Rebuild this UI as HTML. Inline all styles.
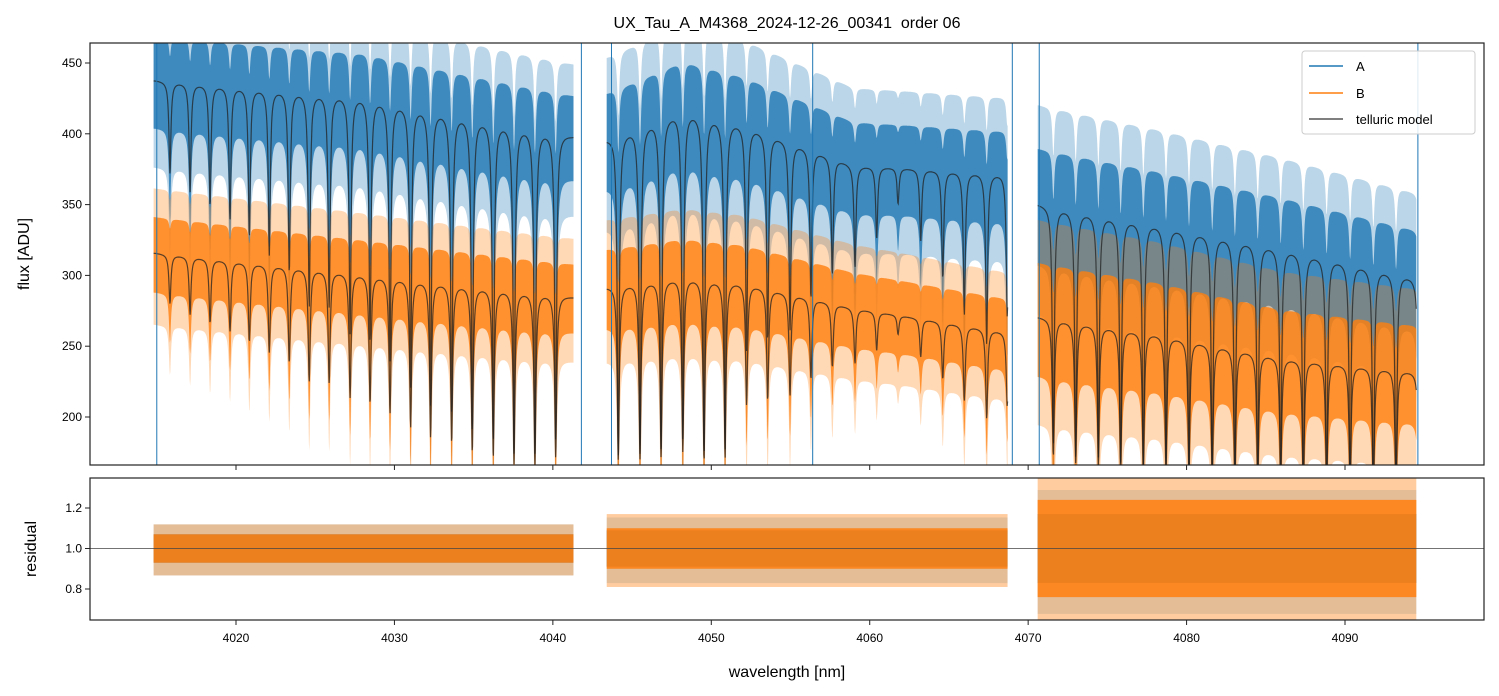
<!DOCTYPE html>
<html><head><meta charset="utf-8">
<style>
body{margin:0;background:#fff;}
svg{display:block;font-family:"Liberation Sans","DejaVu Sans",sans-serif;}
</style></head>
<body>
<svg id="chart" width="1499" height="696" viewBox="0 0 1499 696">
<defs>
<clipPath id="clipTop"><rect x="90" y="43" width="1394" height="422"/></clipPath>
<clipPath id="clipBot"><rect x="90" y="478" width="1394" height="142"/></clipPath>
</defs>
<text x="787" y="28" text-anchor="middle" font-size="16">UX_Tau_A_M4368_2024-12-26_00341&#160; order 06</text>
<g id="topG" clip-path="url(#clipTop)"></g>
<g id="botG" clip-path="url(#clipBot)"></g>
<g id="axes"></g>
<text transform="translate(29,254) rotate(-90)" text-anchor="middle" font-size="16">flux [ADU]</text>
<text transform="translate(36,549) rotate(-90)" text-anchor="middle" font-size="16">residual</text>
<text x="787" y="677" text-anchor="middle" font-size="16">wavelength [nm]</text>
<g>
<rect x="1302" y="51" width="173" height="83" rx="3" fill="#fff" fill-opacity="0.85" stroke="#ccc"/>
<line x1="1309" y1="66" x2="1343" y2="66" stroke="#1f77b4" stroke-width="1.5"/>
<text x="1356" y="71" font-size="13">A</text>
<line x1="1309" y1="93" x2="1343" y2="93" stroke="#ff7f0e" stroke-width="1.5"/>
<text x="1356" y="98" font-size="13">B</text>
<line x1="1309" y1="119" x2="1343" y2="119" stroke="#555" stroke-width="1.5"/>
<text x="1356" y="124" font-size="13">telluric model</text>
</g>
</svg>
<script>
const segments=[[4014.8,4041.3],[4043.4,4068.7],[4070.6,4094.5]];
const lineCenters=[4015.83,4017.10,4018.36,4019.62,4020.84,4022.10,4023.36,4024.62,4025.88,4027.20,4028.46,4029.72,4031.02,4032.28,4033.61,4034.91,4036.24,4037.55,4038.87,4040.18,
4044.13,4045.50,4046.83,4048.20,4049.54,4050.87,4052.23,4053.56,4054.97,4056.29,4057.64,4059.07,4060.44,4061.79,4063.22,4064.61,4065.97,4067.38,4068.68,
4071.59,4073.00,4074.43,4075.84,4077.27,4078.70,4080.15,4081.62,4083.05,4084.49,4085.94,4087.37,4088.84,4090.32,4091.79,4093.22,4094.69];
const lineDepths=[.11,.13,.145,.16,.18,.2,.22,.26,.26,.29,.3,.32,.35,.37,.38,.4,.41,.42,.42,.4,
.42,.42,.42,.41,.43,.42,.29,.27,.25,.2,.16,.14,.1,.05,.1,.15,.2,.24,.2,
.36,.37,.37,.38,.38,.37,.38,.38,.39,.38,.38,.39,.38,.38,.39,.38,.4];
const contW=[4014.8,4028,4041.3,4043.4,4048.2,4052.0,4059,4068.7,4070.6,4078,4086,4094.5];
const contA=[438,427,399,397,418,408,378,372,351,337,320,299];
const contB=[316,301,285,292,299,295,277,260,271,259,242,232];
const noiseA=[0.07,0.08,0.11];
const noiseB=[0.08,0.09,0.14];
const resA=[0.07,0.09,0.17];
const resB=[0.07,0.1,0.24];
const spikes=[4015.0,4041.8,4043.7,4056.4,4069.0,4070.7,4094.6];
const xTicks=[4020,4030,4040,4050,4060,4070,4080,4090];
const yTicks=[200,250,300,350,400,450];
const rTicks=[0.8,1.0,1.2];

const X=w=>236+(w-4020)*15.843;
const Y=f=>63+(450-f)*1.416;
const R=r=>548.5-(r-1)*202.5;
const NS='http://www.w3.org/2000/svg';
function mk(tag,attrs,parent){const e=document.createElementNS(NS,tag);for(const k in attrs)e.setAttribute(k,attrs[k]);parent.appendChild(e);return e;}
function cont(arr,w,s){let ks=[];for(let i=0;i<contW.length;i++){if(contW[i]>=segments[s][0]-0.01&&contW[i]<=segments[s][1]+0.01)ks.push(i);}
 for(let j=0;j<ks.length-1;j++){const a=ks[j],b=ks[j+1];if(w<=contW[b]||j==ks.length-2){const t=(w-contW[a])/(contW[b]-contW[a]);return arr[a]+t*(arr[b]-arr[a]);}}return arr[ks[0]];}
function trans(w,scale){let s=0;for(let i=0;i<lineCenters.length;i++){const d=(w-lineCenters[i])/0.075;s+=lineDepths[i]*scale/(1+d*d);}return Math.max(0.02,1-s);}
const topG=document.getElementById('topG'),botG=document.getElementById('botG'),axes=document.getElementById('axes');
const series=[{c:contA,n:noiseA,r:resA,col:'#1f77b4',sc:1.35,name:'a'},{c:contB,n:noiseB,r:resB,col:'#ff7f0e',sc:1.0,name:'b'}];
series.forEach(S=>{
 segments.forEach((seg,si)=>{
  const step=0.025;let up=[],lo=[],up2=[],lo2=[],mdl=[];
  for(let w=seg[0];w<=seg[1]+1e-9;w+=step){const c=cont(S.c,w,si);const m=c*trans(w,S.sc);const ms=c*trans(w,S.sc*0.2);const n=S.n[si]*c;
   const xs=X(w).toFixed(1);
   up.push(xs+','+Y(ms+n).toFixed(1));lo.push(xs+','+Y(m-n*1.1).toFixed(1));
   up2.push(xs+','+Y(ms+n*1.8).toFixed(1));lo2.push(xs+','+Y(m-n*2.0).toFixed(1));
   mdl.push(xs+','+Y(m).toFixed(1));}
  const outer=mk('polygon',{points:up2.concat(lo2.reverse()).join(' '),fill:S.col,'fill-opacity':0.3},topG);
  
  
  const inner=mk('polygon',{points:up.concat(lo.reverse()).join(' '),fill:S.col,'fill-opacity':0.8},topG);
  
  
  S['m'+si]=mdl;
  const rr2=mk('rect',{x:X(seg[0]),y:R(1+S.r[si]*1.7),width:X(seg[1])-X(seg[0]),height:R(1-S.r[si]*1.9)-R(1+S.r[si]*1.7),fill:S.col,'fill-opacity':S.name=='a'?0.2:0.4},botG);
  
  
  const rr=mk('rect',{x:X(seg[0]),y:R(1+S.r[si]),width:X(seg[1])-X(seg[0]),height:R(1-S.r[si])-R(1+S.r[si]),fill:S.col,'fill-opacity':0.85},botG);
  
  
 });
});
series.forEach(S=>{segments.forEach((seg,si)=>{
 const p=mk('polyline',{points:S['m'+si].join(' '),fill:'none',stroke:'#222','stroke-opacity':0.75,'stroke-width':1.2},topG);
 
 
});});
spikes.forEach(w=>{const l=mk('line',{x1:X(w),x2:X(w),y1:43,y2:465,stroke:'#1f77b4','stroke-width':1},topG);
 
 });
const ul=mk('line',{x1:90,x2:1484,y1:R(1),y2:R(1),stroke:'#444','stroke-width':0.7},botG);


[[43,465],[478,620]].forEach(([t,b],i)=>{const f=mk('rect',{x:90,y:t,width:1394,height:b-t,fill:'none',stroke:'#222','stroke-width':1.2},axes);
 
 });
xTicks.forEach(v=>{const x=X(v);
 mk('line',{x1:x,x2:x,y1:465,y2:470,stroke:'#222'},axes);
 mk('line',{x1:x,x2:x,y1:620,y2:625,stroke:'#222'},axes);
 const t=mk('text',{x:x,y:642,'text-anchor':'middle','font-size':12},axes);t.textContent=v;
 
 });
yTicks.forEach(v=>{const y=Y(v);mk('line',{x1:85,x2:90,y1:y,y2:y,stroke:'#222'},axes);
 const t=mk('text',{x:82,y:y+4,'text-anchor':'end','font-size':12},axes);t.textContent=v;
 
 });
rTicks.forEach(v=>{const y=R(v);mk('line',{x1:85,x2:90,y1:y,y2:y,stroke:'#222'},axes);
 const t=mk('text',{x:82,y:y+4,'text-anchor':'end','font-size':12},axes);t.textContent=v.toFixed(1);
 
 });
</script>
</body></html>
